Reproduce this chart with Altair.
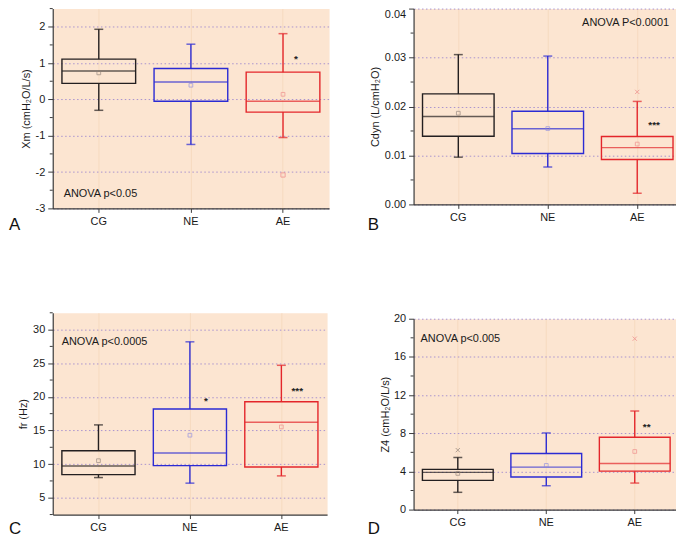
import altair as alt
import pandas as pd

groups = ["CG", "NE", "AE"]

# ---------------- Panel A: Xm ----------------
xm_low = [-0.30, -1.24, -1.05]
xm_q1 = [0.44, -0.05, -0.35]
xm_med = [0.78, 0.48, -0.05]
xm_q3 = [1.11, 0.85, 0.75]
xm_high = [1.93, 1.52, 1.81]
xm_mean = [0.73, 0.39, 0.14]
xm_out_group = ["AE"]
xm_out_value = [-2.08]
xm_out_shape = ["square"]
xm_star_group = ["AE"]
xm_star_value = [1.12]
xm_star_text = ["*"]
xm_ticks = [-3, -2, -1, 0, 1, 2]
xm_minor = [-2.5, -1.5, -0.5, 0.5, 1.5, 2.5]

# ---------------- Panel B: Cdyn ----------------
cd_low = [0.00965, 0.00764, 0.00228]
cd_q1 = [0.01393, 0.01039, 0.00918]
cd_med = [0.01795, 0.01548, 0.0116]
cd_q3 = [0.02257, 0.01903, 0.01387]
cd_high = [0.0306, 0.0303, 0.02104]
cd_mean = [0.01863, 0.0155, 0.01233]
cd_out_group = ["AE"]
cd_out_value = [0.02298]
cd_out_shape = ["x"]
cd_star_group = ["AE"]
cd_star_value = [0.01614]
cd_star_text = ["***"]
cd_ticks = [0.0, 0.01, 0.02, 0.03, 0.04]
cd_minor = [0.005, 0.015, 0.025, 0.035]

# ---------------- Panel C: fr ----------------
fr_low = [8.0, 7.17, 8.25]
fr_q1 = [8.44, 9.77, 9.58]
fr_med = [9.72, 11.64, 16.22]
fr_q3 = [11.99, 18.19, 19.27]
fr_high = [15.83, 28.18, 24.69]
fr_mean = [10.51, 14.3, 15.53]
fr_out_group = []
fr_out_value = []
fr_out_shape = []
fr_star_group = ["NE", "AE"]
fr_star_value = [19.42, 20.9]
fr_star_text = ["*", "***"]
fr_ticks = [5, 10, 15, 20, 25, 30]
fr_minor = [2.5, 7.5, 12.5, 17.5, 22.5, 27.5, 32.5]

# ---------------- Panel D: Z4 ----------------
z4_low = [1.81, 2.5, 2.78]
z4_q1 = [3.06, 3.41, 4.03]
z4_med = [3.9, 4.45, 4.83]
z4_q3 = [4.21, 5.88, 7.58]
z4_high = [5.46, 8.03, 10.33]
z4_mean = [3.79, 4.63, 6.09]
z4_out_group = ["CG", "AE"]
z4_out_value = [6.23, 17.91]
z4_out_shape = ["x", "x"]
z4_star_group = ["AE"]
z4_star_value = [8.7]
z4_star_text = ["**"]
z4_ticks = [0, 4, 8, 12, 16, 20]
z4_minor = [2, 6, 10, 14, 18]

# ---------------- styles ----------------
line_colors = ["#231f20", "#2b2bd4", "#e3262b"]
light_colors = ["#8e8078", "#8a8ae2", "#ee8585"]
BG = "#fce5d1"
GRID = "#a993cf"
XGRID = "#f6dabf"
AXC = "#3a3a3a"
FONT = "Liberation Sans"
X_PATH = "M-1,-1L1,1M1,-1L-1,1"


def make_panel(low, q1, med, q3, high, mean, out_g, out_v, out_s,
               star_g, star_v, star_t, ticks, minor, domain, title,
               anova, anova_x, anova_y, anova_align, letter, letter_dx,
               letter_dy, w, h, title_pad, fmt, star_dx, top_flush=False):
    box = pd.DataFrame({"group": groups, "low": low, "q1": q1, "med": med,
                        "q3": q3, "high": high, "mean": mean})
    shapes = [X_PATH if s == "x" else s for s in out_s]
    outs = pd.DataFrame({"group": out_g, "v": out_v, "shape": shapes})
    stars = pd.DataFrame({"group": star_g, "v": star_v, "t": star_t})
    minors = pd.DataFrame({"v": minor})
    note = pd.DataFrame({"v": [anova_y], "t": [anova]})
    lab = pd.DataFrame({"t": [letter]})

    xsc = alt.Scale(domain=groups, paddingInner=0.2, paddingOuter=0.1)
    ysc = alt.Scale(domain=domain, nice=False, zero=False)
    xax = alt.Axis(title=None, labelAngle=0, grid=True, gridColor=XGRID,
                   gridWidth=1, bandPosition=0.5, tickSize=4, labelPadding=3)
    yax_kw = dict(title=title, values=ticks, grid=True, gridColor=GRID,
                  gridDash=[1.5, 2.5], gridWidth=1, tickSize=5, labelPadding=3,
                  titlePadding=title_pad)
    if fmt:
        yax_kw["format"] = fmt
    else:
        yax_kw["labelExpr"] = "'' + datum.value"
    if top_flush:
        yax_kw["labelBaseline"] = {
            "condition": {"test": "datum.value >= %r" % (domain[1] * 0.99),
                          "value": "top"},
            "value": "middle"}
    yax = alt.Axis(**yax_kw)
    X = alt.X("group:N", scale=xsc, axis=xax, sort=groups)
    col = alt.Color("group:N", scale=alt.Scale(domain=groups, range=line_colors),
                    legend=None)
    lcol = alt.Stroke("group:N", scale=alt.Scale(domain=groups, range=light_colors),
                      legend=None)

    def Y(f):
        return alt.Y(f + ":Q", scale=ysc, axis=yax)

    base = alt.Chart(box)
    whisk_lo = base.mark_rule(strokeWidth=1.4).encode(x=X, y=Y("low"), y2="q1", color=col)
    whisk_hi = base.mark_rule(strokeWidth=1.4).encode(x=X, y=Y("q3"), y2="high", color=col)
    cap_lo = base.mark_tick(size=9, thickness=1.5).encode(x=X, y=Y("low"), color=col)
    cap_hi = base.mark_tick(size=9, thickness=1.5).encode(x=X, y=Y("high"), color=col)
    rect = base.mark_bar(filled=False, strokeWidth=1.4).encode(
        x=X, y=Y("q1"), y2="q3", color=col)
    median = base.mark_tick(size=0.8 * w / 3, thickness=1.5).encode(
        x=X, y=Y("med"), color=col)
    means = base.mark_point(shape="square", size=14, filled=False,
                            strokeWidth=0.9).encode(x=X, y=Y("mean"), stroke=lcol)
    minor_ticks = alt.Chart(minors).mark_rule(color=AXC, strokeWidth=1).encode(
        y=Y("v"), x=alt.value(-3), x2=alt.value(0))
    layers = [minor_ticks, whisk_lo, whisk_hi, rect, median, cap_lo, cap_hi, means]
    if len(outs):
        layers.append(alt.Chart(outs).mark_point(size=18, filled=False,
                                                 strokeWidth=1).encode(
            x=X, y=Y("v"), stroke=lcol, shape=alt.Shape("shape:N", scale=None)))
    layers.append(alt.Chart(stars).mark_text(fontSize=10, fontWeight="bold",
                                             color="#222222", dx=star_dx, dy=0,
                                             baseline="middle", font=FONT).encode(
        x=X, y=Y("v"), text="t:N"))
    layers.append(alt.Chart(note).mark_text(fontSize=11, color="#1a1a1a",
                                            align=anova_align, baseline="middle",
                                            font=FONT).encode(
        x=alt.value(anova_x), y=Y("v"), text="t:N"))
    layers.append(alt.Chart(lab).mark_text(fontSize=17, color="#111111",
                                           align="left", baseline="alphabetic",
                                           font=FONT).encode(
        x=alt.value(letter_dx), y=alt.value(h + letter_dy), text="t:N"))
    return alt.layer(*layers).properties(width=w, height=h)


pA = make_panel(xm_low, xm_q1, xm_med, xm_q3, xm_high, xm_mean,
                xm_out_group, xm_out_value, xm_out_shape,
                xm_star_group, xm_star_value, xm_star_text,
                xm_ticks, xm_minor, [-3, 2.5], "Xm (cmH\u2082O/L/s)",
                "ANOVA p<0.05", 11, -2.6, "left", "A", -44, 22,
                278, 201, 4, None, 13)
pB = make_panel(cd_low, cd_q1, cd_med, cd_q3, cd_high, cd_mean,
                cd_out_group, cd_out_value, cd_out_shape,
                cd_star_group, cd_star_value, cd_star_text,
                cd_ticks, cd_minor, [0, 0.04], "Cdyn (L/cmH\u2082O)",
                "ANOVA P<0.0001", 257, 0.037, "right", "B", -46, 26,
                270, 197, 4, ".2f", 17, top_flush=True)
pC = make_panel(fr_low, fr_q1, fr_med, fr_q3, fr_high, fr_mean,
                fr_out_group, fr_out_value, fr_out_shape,
                fr_star_group, fr_star_value, fr_star_text,
                fr_ticks, fr_minor, [2.5, 32.5], "fr (Hz)",
                "ANOVA p<0.0005", 9, 28.2, "left", "C", -44, 20,
                276, 203, 4, None, 16)
pD = make_panel(z4_low, z4_q1, z4_med, z4_q3, z4_high, z4_mean,
                z4_out_group, z4_out_value, z4_out_shape,
                z4_star_group, z4_star_value, z4_star_text,
                z4_ticks, z4_minor, [0, 20], "Z4 (cmH\u2082O/L/s)",
                "ANOVA p<0.005", 7, 17.9, "left", "D", -46, 25,
                267, 192, 3, None, 12)

left = alt.vconcat(pA, pC, spacing=78)
right = alt.vconcat(pB, pD, spacing=78)

chart = alt.concat(left, right, columns=2, align="none", spacing=37).properties(
    padding={"left": 0, "top": -2, "right": -7, "bottom": 0}
).configure_view(fill=BG, stroke="transparent").configure_axis(
    labelFont=FONT, titleFont=FONT, labelFontSize=11, titleFontSize=11,
    titleFontWeight="normal", domainColor=AXC, tickColor=AXC,
    labelColor="#1a1a1a", titleColor="#1a1a1a", domainWidth=1.2
)

chart.save("out.html", embed_options={"renderer": "svg", "actions": False})
